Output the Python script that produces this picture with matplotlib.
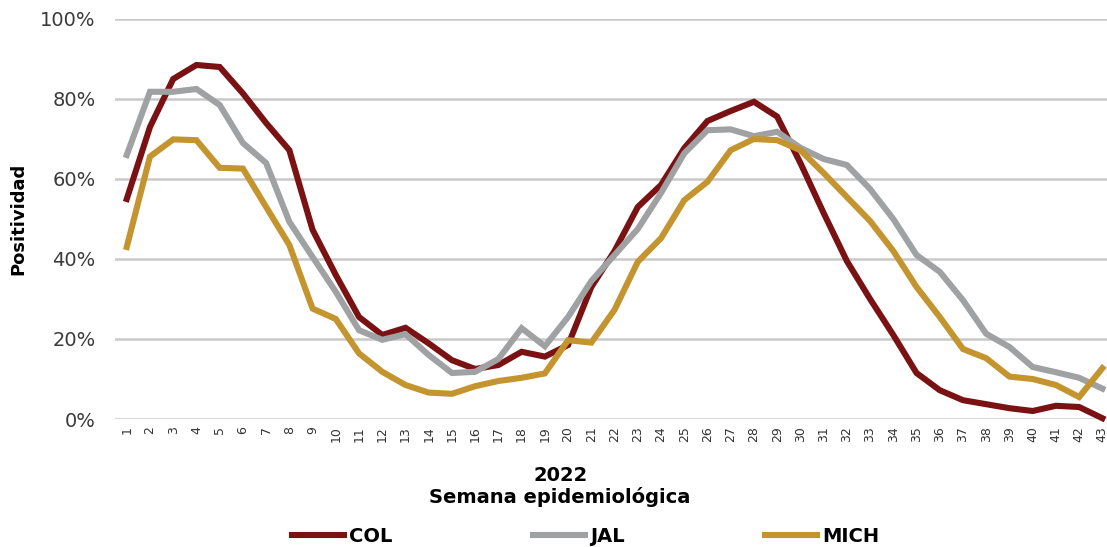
import numpy as np
import matplotlib.pyplot as plt
from matplotlib.ticker import PercentFormatter

# Datos: positividad semanal (%), 2022
semanas = list(range(1, 44))

col = [55, 73, 85, 88.5, 88, 81.4, 74, 67.2, 47.3, 36, 25.5, 21, 22.8, 18.9, 14.7, 12.5,
       13.5, 16.8, 15.6, 18.5, 33, 42, 53, 58.5, 67.7, 74.5, 77, 79.3, 75.6, 64, 51.5,
       39.5, 30, 21, 11.5, 7.2, 4.7, 3.7, 2.7, 2, 3.3, 3, 0.2]

jal = [66, 81.8, 81.8, 82.5, 78.5, 69, 64, 49.3, 40.5, 31.8, 22.2, 19.8, 21.2, 16, 11.5, 11.8,
       15, 22.7, 18.2, 25.5, 34.5, 41, 47.5, 56.5, 66.4, 72.2, 72.4, 70.7, 71.8, 67.8, 65,
       63.5, 57.5, 50, 41, 36.8, 29.7, 21.3, 18, 13, 11.7, 10.3, 7.6]

mich = [43, 65.6, 69.9, 69.7, 62.8, 62.6, 53, 43.5, 27.6, 25, 16.4, 11.8, 8.5, 6.6, 6.3, 8.2,
        9.5, 10.3, 11.4, 19.7, 19.1, 27.3, 39.3, 45.2, 54.7, 59.3, 67.2, 70, 69.7, 67.2, 61.5,
        55.5, 49.5, 42, 33, 25.5, 17.5, 15.2, 10.6, 10, 8.5, 5.5, 12.7]

series = {'COL': (col, '#7a1214'), 'JAL': (jal, '#9fa1a2'), 'MICH': (mich, '#c4942f')}

plt.rcParams['font.family'] = ['DejaVu Sans']

fig = plt.figure(figsize=(11.07, 5.47), dpi=100)
ax = fig.add_axes([0.104, 0.234, 0.896, 0.7313])

for nombre, (valores, color) in series.items():
    ax.plot(semanas, valores, color=color, lw=4.4, label=nombre,
            solid_joinstyle='miter', clip_on=False)

ax.set_xlim(0.5, 43.2)
ax.set_ylim(0, 100)
ax.yaxis.set_major_formatter(PercentFormatter(decimals=0))
ax.set_yticks(range(0, 101, 20))
ax.set_xticks(semanas)
ax.set_xticklabels([str(s) for s in semanas], rotation=90, fontsize=9, color='#333333')
ax.tick_params(axis='y', labelsize=14, colors='#3a3a3a', length=0, pad=14)
ax.tick_params(axis='x', length=0, pad=5)
ax.grid(axis='y', color='#c9c9c9', lw=1.8)
ax.set_axisbelow(True)
for s in ax.spines.values():
    s.set_visible(False)

ax.set_ylabel('Positividad', fontsize=13, fontweight='bold')
ax.yaxis.set_label_coords(-0.088, 0.5)

fig.text(0.506, 0.131, '2022', ha='center', va='center', fontsize=14, fontweight='bold')
fig.text(0.506, 0.091, 'Semana epidemiológica', ha='center', va='center',
         fontsize=14, fontweight='bold')

fig.legend(loc='center', bbox_to_anchor=(0.529, 0.02), ncol=3, frameon=False,
           prop={'weight': 'bold', 'size': 14}, handlelength=2.7,
           handletextpad=0.25, columnspacing=7.2)

fig.savefig('out.png', dpi=100)
